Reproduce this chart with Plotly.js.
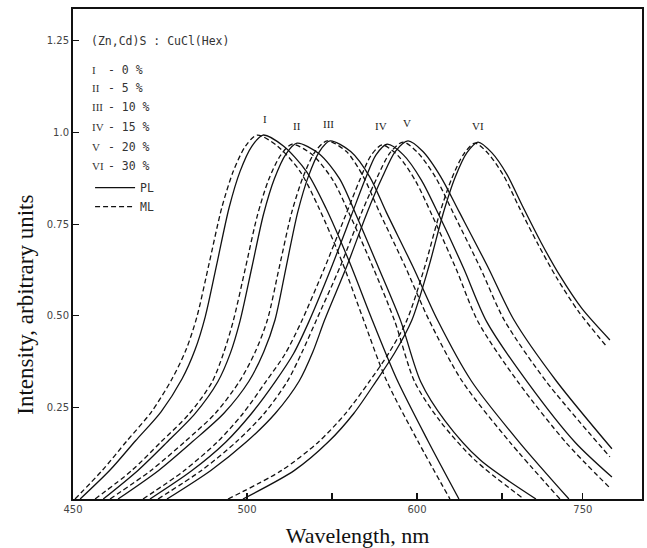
<!DOCTYPE html>
<html>
<head>
<meta charset="utf-8">
<script src="https://cdn.plot.ly/plotly-3.0.1.min.js"></script>
<style>html,body{margin:0;padding:0;background:#fff;}#chart{width:647px;height:548px;}</style>
</head>
<body>
<div id="chart"></div>
<script>
// ---- Data (x in axis units calibrated on the 500 / 600 ticks) ----
const curveLabels = ['I', 'II', 'III', 'IV', 'V', 'VI'];
const cuclContent = ['0 %', '5 %', '10 %', '15 %', '20 %', '30 %'];

// PL (solid) curves
const plI_x   = [401.8, 419.4, 434.4, 449.4, 461.8, 469.4, 475.4, 482.4, 489.4, 495.9, 502.9, 509.4, 521.4, 534.9, 546.4, 560.4, 572.9, 588.0, 606.4, 624.7];
const plI_y   = [0, 0.079, 0.159, 0.238, 0.328, 0.407, 0.497, 0.645, 0.794, 0.894, 0.963, 0.993, 0.963, 0.894, 0.794, 0.645, 0.497, 0.328, 0.159, 0];
const plII_x  = [415.4, 435.8, 452.9, 469.4, 482.8, 490.2, 495.9, 502.8, 509.7, 516.1, 523.0, 529.4, 542.4, 554.4, 564.0, 577.4, 590.4, 602.2, 616.4, 637.1, 670.0];
const plII_y  = [0, 0.078, 0.155, 0.233, 0.320, 0.398, 0.486, 0.631, 0.777, 0.874, 0.942, 0.971, 0.942, 0.874, 0.777, 0.631, 0.486, 0.320, 0.214, 0.107, 0];
const plIII_x = [424.1, 448.0, 467.8, 486.4, 501.2, 509.8, 516.5, 523.1, 529.8, 536.0, 542.6, 548.8, 561.0, 572.2, 582.0, 597.5, 612.0, 632.0, 660.0, 689.4];
const plIII_y = [0, 0.078, 0.156, 0.234, 0.322, 0.401, 0.489, 0.635, 0.782, 0.879, 0.948, 0.977, 0.948, 0.879, 0.782, 0.635, 0.489, 0.322, 0.156, 0];
const plIV_x  = [442.9, 467.4, 487.4, 502.4, 516.4, 527.4, 536.4, 549.4, 561.4, 569.4, 575.9, 582.4, 592.0, 602.5, 613.0, 627.5, 641.0, 665.0, 693.0, 714.7];
const plIV_y  = [0, 0.077, 0.155, 0.232, 0.319, 0.397, 0.484, 0.629, 0.774, 0.871, 0.939, 0.968, 0.939, 0.871, 0.774, 0.629, 0.484, 0.319, 0.155, 0.060];
const plV_x   = [452.9, 478.7, 499.7, 516.7, 530.7, 538.7, 545.7, 558.7, 570.7, 579.7, 587.2, 594.7, 603.5, 614.0, 625.0, 641.5, 657.0, 682.0, 714.7];
const plV_y   = [0, 0.078, 0.156, 0.234, 0.322, 0.401, 0.489, 0.635, 0.782, 0.879, 0.948, 0.977, 0.948, 0.879, 0.782, 0.635, 0.489, 0.322, 0.137];
const plVI_x  = [497.6, 527.9, 547.9, 562.9, 575.9, 586.9, 596.9, 606.9, 615.4, 622.4, 629.4, 635.9, 644.0, 653.0, 662.0, 673.0, 684.0, 697.0, 713.5];
const plVI_y  = [0, 0.078, 0.156, 0.234, 0.321, 0.399, 0.487, 0.633, 0.779, 0.877, 0.945, 0.974, 0.945, 0.885, 0.800, 0.700, 0.610, 0.520, 0.434];

// ML (dashed) curves
const mlI_x   = [398.8, 415.0, 429.4, 443.8, 455.9, 464.1, 470.5, 477.8, 485.1, 491.9, 499.1, 505.9, 517.9, 531.2, 542.3, 556.1, 567.9, 581.6, 600.4, 619.4];
const mlI_y   = [0, 0.079, 0.159, 0.238, 0.328, 0.407, 0.497, 0.645, 0.794, 0.894, 0.963, 0.993, 0.963, 0.894, 0.794, 0.645, 0.497, 0.328, 0.159, 0];
const mlII_x  = [410.6, 432.0, 449.2, 465.9, 479.4, 486.1, 491.8, 499.0, 506.1, 512.7, 519.9, 526.5, 538.5, 550.4, 560.6, 574.4, 587.0, 598.7, 613.5, 634.1, 662.9];
const mlII_y  = [0, 0.077, 0.155, 0.232, 0.319, 0.397, 0.484, 0.629, 0.774, 0.871, 0.939, 0.968, 0.939, 0.871, 0.774, 0.629, 0.484, 0.319, 0.213, 0.106, 0];
const mlIII_x = [419.4, 443.5, 463.3, 481.4, 495.7, 504.8, 512.0, 519.1, 526.3, 533.0, 540.1, 547.1, 558.5, 568.5, 578.0, 593.0, 607.0, 626.5, 654.5, 684.1];
const mlIII_y = [0, 0.078, 0.156, 0.234, 0.322, 0.401, 0.489, 0.635, 0.782, 0.879, 0.948, 0.977, 0.948, 0.879, 0.782, 0.635, 0.489, 0.322, 0.156, 0];
const mlIV_x  = [438.8, 462.9, 482.4, 497.4, 510.9, 522.4, 531.9, 545.4, 557.9, 566.2, 572.9, 579.4, 588.8, 599.0, 609.0, 623.0, 636.0, 659.5, 687.5, 712.9];
const mlIV_y  = [0, 0.077, 0.155, 0.232, 0.319, 0.396, 0.483, 0.628, 0.773, 0.869, 0.937, 0.966, 0.937, 0.869, 0.773, 0.628, 0.483, 0.319, 0.155, 0.033];
const mlV_x   = [447.6, 473.2, 493.7, 510.2, 523.7, 532.2, 540.7, 554.7, 567.2, 576.5, 584.2, 591.8, 600.5, 611.0, 621.5, 637.0, 651.5, 676.0, 713.5];
const mlV_y   = [0, 0.078, 0.156, 0.234, 0.321, 0.399, 0.487, 0.633, 0.779, 0.877, 0.945, 0.974, 0.945, 0.877, 0.779, 0.633, 0.487, 0.321, 0.115];
const mlVI_x  = [488.8, 520.4, 541.9, 557.9, 571.9, 583.4, 593.9, 604.4, 613.2, 620.4, 627.6, 634.1, 642.0, 651.0, 660.0, 671.0, 682.0, 695.0, 711.8];
const mlVI_y  = [0, 0.078, 0.155, 0.233, 0.320, 0.398, 0.486, 0.631, 0.777, 0.874, 0.942, 0.971, 0.942, 0.882, 0.797, 0.697, 0.605, 0.512, 0.415];

// Peak labels
const peakLabelX = [510.6, 529.4, 548.2, 578.8, 594.1, 635.9];
const peakLabelY = [1.015, 0.996, 1.001, 0.996, 1.004, 0.996];

// Axis ticks
const xTickVals = [397.6, 500, 550, 600, 650, 697.6];
const xTickText = ['450', '500', '', '600', '', '750'];
const yTickVals = [0.25, 0.5, 0.75, 1.0, 1.25];
const yTickText = ['0.25', '0.50', '0.75', '1.0', '1.25'];

// ---- Build the figure ----
const plSeries = [[plI_x, plI_y], [plII_x, plII_y], [plIII_x, plIII_y], [plIV_x, plIV_y], [plV_x, plV_y], [plVI_x, plVI_y]];
const mlSeries = [[mlI_x, mlI_y], [mlII_x, mlII_y], [mlIII_x, mlIII_y], [mlIV_x, mlIV_y], [mlV_x, mlV_y], [mlVI_x, mlVI_y]];

const traces = [];
plSeries.forEach((s, i) => {
  traces.push({
    x: s[0], y: s[1], type: 'scatter', mode: 'lines',
    line: {color: '#111', width: 1.3, shape: 'spline', smoothing: 0.8},
    name: 'PL', legendgroup: 'PL', showlegend: i === 0, hoverinfo: 'skip'
  });
});
mlSeries.forEach((s, i) => {
  traces.push({
    x: s[0], y: s[1], type: 'scatter', mode: 'lines',
    line: {color: '#111', width: 1.3, dash: '5px,3px', shape: 'spline', smoothing: 0.8},
    name: 'ML', legendgroup: 'ML', showlegend: i === 0, hoverinfo: 'skip'
  });
});

const sans = '"DejaVu Sans", sans-serif';
const mono = '"DejaVu Sans Mono", "Liberation Mono", monospace';
const serif = '"Liberation Serif", "DejaVu Serif", serif';

const annotations = [];
curveLabels.forEach((t, i) => {
  annotations.push({x: peakLabelX[i], y: peakLabelY[i], xref: 'x', yref: 'y', text: t, showarrow: false,
    font: {family: serif, size: 11, color: '#222'}, xanchor: 'center', yanchor: 'bottom'});
});
// composition key
annotations.push({x: 0.028, y: 0.935, xref: 'paper', yref: 'paper', text: '(Zn,Cd)S : CuCl(Hex)', showarrow: false,
  font: {family: mono, size: 11.5, color: '#333'}, xanchor: 'left', yanchor: 'middle'});
const keyRowsY = [0.8755, 0.8388, 0.800, 0.759, 0.718, 0.680];
curveLabels.forEach((t, i) => {
  annotations.push({x: 0.030, y: keyRowsY[i], xref: 'paper', yref: 'paper', text: t, showarrow: false,
    font: {family: serif, size: 11, color: '#333'}, xanchor: 'left', yanchor: 'middle'});
  annotations.push({x: 0.058, y: keyRowsY[i], xref: 'paper', yref: 'paper', text: '- ' + cuclContent[i], showarrow: false,
    font: {family: mono, size: 11.5, color: '#333'}, xanchor: 'left', yanchor: 'middle'});
});
// y-axis title (placed as in the reference, below the plot centre)
annotations.push({x: -0.083, y: 0.396, xref: 'paper', yref: 'paper', text: 'Intensity, arbitrary units', textangle: -90,
  showarrow: false, font: {family: serif, size: 23, color: '#111'}, xanchor: 'center', yanchor: 'middle'});

const layout = {
  width: 647, height: 548,
  margin: {l: 73, r: 5, t: 9, b: 49},
  paper_bgcolor: '#fff', plot_bgcolor: '#fff',
  showlegend: true,
  legend: {x: 0.03, y: 0.665, xanchor: 'left', yanchor: 'top', bgcolor: 'rgba(0,0,0,0)',
    font: {family: mono, size: 11.5, color: '#333'}, tracegroupgap: 0, itemwidth: 40},
  xaxis: {
    range: [397.6, 732.4], showgrid: false, zeroline: false,
    showline: true, linecolor: '#111', linewidth: 2, mirror: true,
    ticks: 'inside', ticklen: 6, tickwidth: 1.2, tickcolor: '#111',
    tickmode: 'array', tickvals: xTickVals, ticktext: xTickText,
    tickfont: {family: sans, size: 10, color: '#444'},
    title: {text: 'Wavelength, nm', font: {family: serif, size: 22, color: '#111'}}
  },
  yaxis: {
    range: [0, 1.337], showgrid: false, zeroline: false,
    showline: true, linecolor: '#111', linewidth: 2, mirror: true,
    ticks: 'inside', ticklen: 6, tickwidth: 1.2, tickcolor: '#111',
    tickmode: 'array', tickvals: yTickVals, ticktext: yTickText,
    tickfont: {family: sans, size: 10, color: '#444'}
  },
  annotations: annotations
};

Plotly.newPlot('chart', traces, layout, {displayModeBar: false, staticPlot: true});
</script>
</body>
</html>
